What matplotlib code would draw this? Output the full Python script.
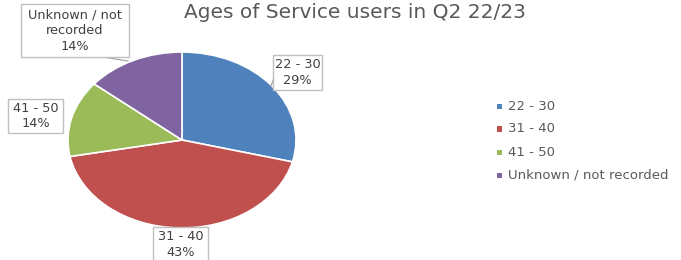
import matplotlib
matplotlib.use("Agg")
import matplotlib.pyplot as plt
from matplotlib.patches import Rectangle

categories = ["22 - 30", "31 - 40", "41 - 50", "Unknown / not recorded"]
values = [29, 43, 14, 14]
label_texts = ["22 - 30\n29%", "31 - 40\n43%", "41 - 50\n14%", "Unknown / not\nrecorded\n14%"]
colors = ["#4F81BD", "#C0504D", "#9BBB59", "#8064A2"]
title = "Ages of Service users in Q2 22/23"

W, H = 681, 260
fig = plt.figure(figsize=(W / 100, H / 100), dpi=100)
fig.patch.set_facecolor("white")
plt.rcParams['font.family'] = ['DejaVu Sans']

# pie axes: centre (182,140), radii 114 x 88 px
cx, cy, rx, ry = 182, 140, 114, 88
ax = fig.add_axes([(cx - rx) / W, (H - cy - ry) / H, 2 * rx / W, 2 * ry / H])
wedges, _ = ax.pie(values, colors=colors, startangle=90, counterclock=False,
                   radius=1, wedgeprops=dict(edgecolor="white", linewidth=1.2))
ax.set_xlim(-1, 1)
ax.set_ylim(-1, 1)
ax.set_aspect('auto')
ax.axis('off')

# label boxes: (x0, y0, x1, y1) pixel rect
boxes = [
    (273, 55, 322, 90),
    (153, 227, 208, 262),
    (8, 99, 63, 133),
    (21, 4, 129, 57),
]
for (x0, y0, x1, y1), t in zip(boxes, label_texts):
    r = Rectangle((x0 / W, 1 - y1 / H), (x1 - x0) / W, (y1 - y0) / H,
                  transform=fig.transFigure, facecolor="white",
                  edgecolor="#BFBFBF", linewidth=1.0, zorder=5)
    fig.add_artist(r)
    fig.text((x0 + x1) / 2 / W, 1 - (y0 + y1) / 2 / H, t, ha="center", va="center",
             fontsize=9.3, color="#404040", linespacing=1.25, zorder=6)

# leader lines
leaders = [((276, 72), (271, 86)), ((97, 56), (128, 61))]
for (a, b) in leaders:
    fig.add_artist(plt.Line2D([a[0] / W, b[0] / W], [1 - a[1] / H, 1 - b[1] / H],
                              transform=fig.transFigure, color="#A6A6A6", linewidth=0.9, zorder=4))

fig.text(355 / W, 1 - 13 / H, title, ha="center", va="center", fontsize=14.5,
         color="#595959")

# legend
rows = [106, 129, 152, 175]
for c, lab, yy in zip(colors, categories, rows):
    fig.add_artist(Rectangle((497 / W, 1 - (yy + 2.5) / H), 5 / W, 5 / H,
                             transform=fig.transFigure, facecolor=c, edgecolor="none"))
    fig.text(508 / W, 1 - yy / H, lab, ha="left", va="center", fontsize=9.5, color="#595959")

fig.savefig("out.png", dpi=100, facecolor="white")
